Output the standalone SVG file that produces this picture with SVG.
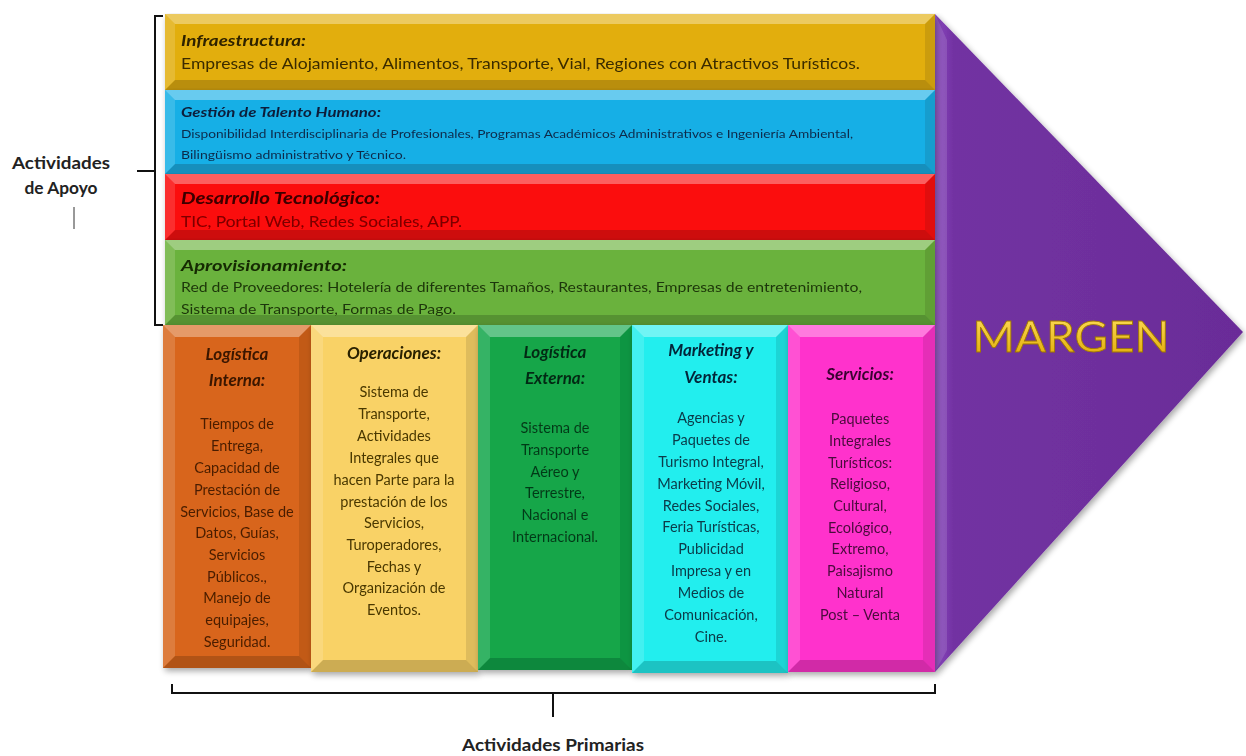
<svg xmlns="http://www.w3.org/2000/svg" width="1246" height="756" viewBox="0 0 1246 756">
<defs>
<style>
.hi{fill:#fff;opacity:.35}
.lo{fill:#000;opacity:.18}
.sh{fill:#fff;opacity:.15}
.sd{fill:#000;opacity:.1}
.ttl{font-family:Lato,"Liberation Sans",sans-serif;font-weight:bold;font-style:italic}
.bd{font-family:Lato,"Liberation Sans",sans-serif}
.col{font-family:Lato,"Liberation Sans",sans-serif;font-size:14.5px;text-anchor:middle}
.colt{font-family:Lato,"Liberation Sans",sans-serif;font-size:17px;font-weight:bold;font-style:italic;text-anchor:middle}
.lbl{font-family:Lato,"Liberation Sans",sans-serif;font-size:17px;font-weight:bold;fill:#222}
.brk{fill:none;stroke:#111;stroke-width:2}
</style>
<linearGradient id="gArrow" x1="0" y1="0" x2="1" y2="0">
<stop offset="0" stop-color="#8a48c0"/>
<stop offset=".06" stop-color="#7232a2"/>
<stop offset="1" stop-color="#6a2c98"/>
</linearGradient>
<linearGradient id="gGold" x1="0" y1="0" x2="0" y2="1">
<stop offset="0" stop-color="#ffe060"/>
<stop offset="1" stop-color="#e0a800"/>
</linearGradient>
<filter id="shadow" x="-5%" y="-5%" width="115%" height="115%">
<feGaussianBlur in="SourceAlpha" stdDeviation="3"/>
<feOffset dx="2" dy="3"/>
<feComponentTransfer><feFuncA type="linear" slope=".35"/></feComponentTransfer>
<feMerge><feMergeNode/><feMergeNode in="SourceGraphic"/></feMerge>
</filter>
</defs>
<rect width="1246" height="756" fill="#fff"/>

<!-- Margin arrow -->
<g id="margen" filter="url(#shadow)">
<polygon points="935,14 1243,332 935,672" fill="url(#gArrow)"/>
<polygon points="935,14 947,40 947,650 935,672" fill="#fff" opacity=".12"/>
<text x="1071" y="352" text-anchor="middle" font-family="Lato,'Liberation Sans',sans-serif" font-size="42" fill="url(#gGold)" stroke="#a07800" stroke-width=".8" textLength="197" lengthAdjust="spacingAndGlyphs">MARGEN</text>
</g>

<!-- Support activities -->
<g id="infraestructura" filter="url(#shadow)">
<rect x="165" y="14" width="770" height="76" fill="#e2ae0c"/>
<polygon class="hi" points="165,14 935,14 925,24 175,24"/>
<polygon class="lo" points="165,90 935,90 925,80 175,80"/>
<polygon class="sh" points="165,14 175,24 175,80 165,90"/>
<polygon class="sd" points="935,14 925,24 925,80 935,90"/>
<text class="ttl" x="181" y="46" font-size="16" fill="#2e2200" textLength="125" lengthAdjust="spacingAndGlyphs">Infraestructura:</text>
<text class="bd" x="181" y="69" font-size="15" fill="#3a2c00" textLength="679" lengthAdjust="spacingAndGlyphs">Empresas de Alojamiento, Alimentos, Transporte, Vial, Regiones con Atractivos Turísticos.</text>
</g>

<g id="talento" filter="url(#shadow)">
<rect x="165" y="90" width="770" height="84" fill="#17afe6"/>
<polygon class="hi" points="165,90 935,90 925,100 175,100"/>
<polygon class="lo" points="165,174 935,174 925,164 175,164"/>
<polygon class="sh" points="165,90 175,100 175,164 165,174"/>
<polygon class="sd" points="935,90 925,100 925,164 935,174"/>
<text class="ttl" x="181" y="117" font-size="13" fill="#0a1e3a" textLength="200" lengthAdjust="spacingAndGlyphs">Gestión de Talento Humano:</text>
<text class="bd" x="181" y="138" font-size="12" fill="#0e2a4a" textLength="672" lengthAdjust="spacingAndGlyphs">Disponibilidad  Interdisciplinaria de Profesionales, Programas Académicos Administrativos e Ingeniería Ambiental,</text>
<text class="bd" x="181" y="159" font-size="12" fill="#0e2a4a" textLength="225" lengthAdjust="spacingAndGlyphs">Bilingüismo administrativo y Técnico.</text>
</g>

<g id="desarrollo" filter="url(#shadow)">
<rect x="165" y="174" width="770" height="66" fill="#fb0909"/>
<polygon class="hi" points="165,174 935,174 925,184 175,184"/>
<polygon class="lo" points="165,240 935,240 925,230 175,230"/>
<polygon class="sh" points="165,174 175,184 175,230 165,240"/>
<polygon class="sd" points="935,174 925,184 925,230 935,240"/>
<text class="ttl" x="181" y="204" font-size="17" fill="#3a0000" textLength="199" lengthAdjust="spacingAndGlyphs">Desarrollo Tecnológico:</text>
<text class="bd" x="181" y="227" font-size="16" fill="#7a0000" textLength="281" lengthAdjust="spacingAndGlyphs">TIC, Portal Web, Redes Sociales,  APP.</text>
</g>

<g id="aprovisionamiento" filter="url(#shadow)">
<rect x="165" y="240" width="770" height="85" fill="#6bb23d"/>
<polygon class="hi" points="165,240 935,240 925,250 175,250"/>
<polygon class="lo" points="165,325 935,325 925,315 175,315"/>
<polygon class="sh" points="165,240 175,250 175,315 165,325"/>
<polygon class="sd" points="935,240 925,250 925,315 935,325"/>
<text class="ttl" x="181" y="271" font-size="16" fill="#142a06" textLength="166" lengthAdjust="spacingAndGlyphs">Aprovisionamiento:</text>
<text class="bd" x="181" y="292" font-size="14" fill="#1c3608" textLength="681" lengthAdjust="spacingAndGlyphs">Red de Proveedores: Hotelería de diferentes Tamaños, Restaurantes, Empresas de entretenimiento,</text>
<text class="bd" x="181" y="314" font-size="14" fill="#1c3608" textLength="275" lengthAdjust="spacingAndGlyphs">Sistema de Transporte, Formas de Pago.</text>
</g>

<!-- Primary activities -->
<g id="logistica-interna" filter="url(#shadow)">
<rect x="163" y="325" width="148" height="343" fill="#d8651a"/>
<polygon class="hi" points="163,325 311,325 299,337 175,337"/>
<polygon class="lo" points="163,668 311,668 299,656 175,656"/>
<polygon class="sh" points="163,325 175,337 175,656 163,668"/>
<polygon class="sd" points="311,325 299,337 299,656 311,668"/>
<g fill="#3a1600">
<text class="colt" x="237" y="360">Logística</text>
<text class="colt" x="237" y="386">Interna:</text>
</g>
<g class="col" fill="#4a1e02">
<text x="237" y="429">Tiempos de</text>
<text x="237" y="451">Entrega,</text>
<text x="237" y="473">Capacidad de</text>
<text x="237" y="495">Prestación de</text>
<text x="237" y="517">Servicios, Base de</text>
<text x="237" y="538">Datos, Guías,</text>
<text x="237" y="560">Servicios</text>
<text x="237" y="582">Públicos.,</text>
<text x="237" y="603">Manejo de</text>
<text x="237" y="625">equipajes,</text>
<text x="237" y="647">Seguridad.</text>
</g>
</g>

<g id="operaciones" filter="url(#shadow)">
<rect x="311" y="325" width="167" height="347" fill="#f9d266"/>
<polygon class="hi" points="311,325 478,325 466,337 323,337"/>
<polygon class="lo" points="311,672 478,672 466,660 323,660"/>
<polygon class="sh" points="311,325 323,337 323,660 311,672"/>
<polygon class="sd" points="478,325 466,337 466,660 478,672"/>
<text class="colt" x="394" y="359" fill="#2a2000">Operaciones:</text>
<g class="col" fill="#4a3800">
<text x="394" y="397">Sistema de</text>
<text x="394" y="419">Transporte,</text>
<text x="394" y="441">Actividades</text>
<text x="394" y="463">Integrales que</text>
<text x="394" y="485">hacen Parte para la</text>
<text x="394" y="507">prestación de los</text>
<text x="394" y="528">Servicios,</text>
<text x="394" y="550">Turoperadores,</text>
<text x="394" y="572">Fechas y</text>
<text x="394" y="593">Organización de</text>
<text x="394" y="615">Eventos.</text>
</g>
</g>

<g id="logistica-externa" filter="url(#shadow)">
<rect x="478" y="325" width="154" height="345" fill="#12a64a"/>
<polygon class="hi" points="478,325 632,325 620,337 490,337"/>
<polygon class="lo" points="478,670 632,670 620,658 490,658"/>
<polygon class="sh" points="478,325 490,337 490,658 478,670"/>
<polygon class="sd" points="632,325 620,337 620,658 632,670"/>
<g fill="#062a12">
<text class="colt" x="555" y="358">Logística</text>
<text class="colt" x="555" y="384">Externa:</text>
</g>
<g class="col" fill="#063a18">
<text x="555" y="433">Sistema de</text>
<text x="555" y="455">Transporte</text>
<text x="555" y="477">Aéreo y</text>
<text x="555" y="498">Terrestre,</text>
<text x="555" y="520">Nacional e</text>
<text x="555" y="542">Internacional.</text>
</g>
</g>

<g id="marketing" filter="url(#shadow)">
<rect x="632" y="325" width="156" height="348" fill="#22eeee"/>
<polygon class="hi" points="632,325 788,325 776,337 644,337"/>
<polygon class="lo" points="632,673 788,673 776,661 644,661"/>
<polygon class="sh" points="632,325 644,337 644,661 632,673"/>
<polygon class="sd" points="788,325 776,337 776,661 788,673"/>
<g fill="#06283a">
<text class="colt" x="711" y="356">Marketing y</text>
<text class="colt" x="711" y="383">Ventas:</text>
</g>
<g class="col" fill="#0a3a48">
<text x="711" y="423">Agencias y</text>
<text x="711" y="445">Paquetes de</text>
<text x="711" y="467">Turismo Integral,</text>
<text x="711" y="489">Marketing Móvil,</text>
<text x="711" y="511">Redes Sociales,</text>
<text x="711" y="532">Feria Turísticas,</text>
<text x="711" y="554">Publicidad</text>
<text x="711" y="576">Impresa y en</text>
<text x="711" y="598">Medios de</text>
<text x="711" y="620">Comunicación,</text>
<text x="711" y="642">Cine.</text>
</g>
</g>

<g id="servicios" filter="url(#shadow)">
<rect x="788" y="325" width="147" height="347" fill="#ff33cc"/>
<polygon class="hi" points="788,325 935,325 923,337 800,337"/>
<polygon class="lo" points="788,672 935,672 923,660 800,660"/>
<polygon class="sh" points="788,325 800,337 800,660 788,672"/>
<polygon class="sd" points="935,325 923,337 923,660 935,672"/>
<text class="colt" x="860" y="380" fill="#3a0630">Servicios:</text>
<g class="col" fill="#4a0a3c">
<text x="860" y="424">Paquetes</text>
<text x="860" y="446">Integrales</text>
<text x="860" y="468">Turísticos:</text>
<text x="860" y="489">Religioso,</text>
<text x="860" y="511">Cultural,</text>
<text x="860" y="533">Ecológico,</text>
<text x="860" y="554">Extremo,</text>
<text x="860" y="576">Paisajismo</text>
<text x="860" y="598">Natural</text>
<text x="860" y="620">Post – Venta</text>
</g>
</g>

<!-- Brackets -->
<g id="connectors">
<path class="brk" d="M163,16 H155 V325 H163"/>
<path class="brk" d="M137,171 H155"/>
<path d="M74,207 V229" stroke="#333" stroke-width="1"/>
<path class="brk" d="M172,684 V693 H935 V684"/>
<path class="brk" d="M553,693 V717"/>
</g>

<g id="apoyo-label">
<text class="lbl" x="61" y="169" text-anchor="middle" textLength="98" lengthAdjust="spacingAndGlyphs">Actividades</text>
<text class="lbl" x="61" y="194" text-anchor="middle" textLength="73" lengthAdjust="spacingAndGlyphs">de Apoyo</text>
</g>
<g id="primarias-label">
<text class="lbl" x="553" y="751" text-anchor="middle" textLength="182" lengthAdjust="spacingAndGlyphs">Actividades Primarias</text>
</g>
</svg>
